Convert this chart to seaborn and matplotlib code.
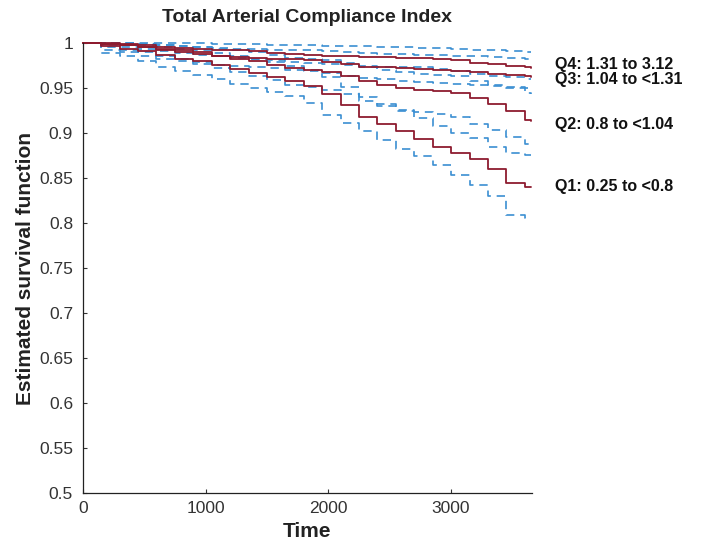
import numpy as np
import pandas as pd
import matplotlib
matplotlib.use("Agg")
import matplotlib.pyplot as plt
import seaborn as sns

times = [0, 150, 300, 450, 600, 750, 900, 1050, 1200, 1350, 1500, 1650, 1800,
         1950, 2100, 2250, 2400, 2550, 2700, 2850, 3000, 3150, 3300, 3450, 3600, 3650]

# Q1: 0.25 to <0.8
q1_est = [1.0, 0.997, 0.994, 0.991, 0.987, 0.983, 0.980, 0.976, 0.971, 0.967, 0.962, 0.958, 0.952,
          0.943, 0.931, 0.918, 0.910, 0.902, 0.894, 0.885, 0.878, 0.871, 0.860, 0.845, 0.840, 0.840]
q1_low = [1.0, 0.989, 0.986, 0.980, 0.974, 0.969, 0.965, 0.960, 0.955, 0.950, 0.946, 0.941, 0.933,
          0.920, 0.911, 0.902, 0.892, 0.882, 0.875, 0.865, 0.853, 0.842, 0.830, 0.809, 0.806, 0.806]
q1_up = [1.0, 1.0, 0.999, 0.998, 0.996, 0.994, 0.992, 0.989, 0.986, 0.983, 0.979, 0.975, 0.970,
         0.962, 0.951, 0.940, 0.932, 0.925, 0.917, 0.908, 0.900, 0.895, 0.885, 0.878, 0.876, 0.876]

# Q2: 0.8 to <1.04
q2_est = [1.0, 0.999, 0.998, 0.996, 0.994, 0.992, 0.990, 0.986, 0.983, 0.980, 0.976, 0.972, 0.970,
          0.968, 0.964, 0.958, 0.953, 0.950, 0.948, 0.947, 0.945, 0.939, 0.932, 0.925, 0.915, 0.913]
q2_low = [1.0, 0.993, 0.990, 0.986, 0.983, 0.980, 0.977, 0.972, 0.968, 0.964, 0.959, 0.954, 0.951,
          0.948, 0.943, 0.936, 0.930, 0.926, 0.923, 0.921, 0.918, 0.910, 0.903, 0.896, 0.888, 0.887]
q2_up = [1.0, 1.0, 1.0, 0.999, 0.998, 0.997, 0.996, 0.994, 0.992, 0.990, 0.987, 0.984, 0.983,
         0.981, 0.978, 0.974, 0.970, 0.968, 0.966, 0.965, 0.963, 0.958, 0.954, 0.950, 0.945, 0.944]

# Q3: 1.04 to <1.31
q3_est = [1.0, 0.999, 0.998, 0.996, 0.993, 0.990, 0.988, 0.986, 0.985, 0.984, 0.983, 0.982, 0.981,
          0.979, 0.977, 0.974, 0.973, 0.972, 0.971, 0.970, 0.969, 0.968, 0.966, 0.965, 0.963, 0.962]
q3_low = [1.0, 0.996, 0.993, 0.990, 0.986, 0.982, 0.979, 0.976, 0.975, 0.973, 0.972, 0.970, 0.969,
          0.967, 0.964, 0.961, 0.960, 0.958, 0.957, 0.956, 0.955, 0.953, 0.952, 0.951, 0.950, 0.950]
q3_up = [1.0, 1.0, 1.0, 0.999, 0.998, 0.997, 0.996, 0.995, 0.994, 0.994, 0.993, 0.992, 0.992,
         0.991, 0.990, 0.989, 0.988, 0.988, 0.987, 0.987, 0.986, 0.986, 0.985, 0.984, 0.983, 0.983]

# Q4: 1.31 to 3.12
q4_est = [1.0, 1.0, 0.999, 0.998, 0.996, 0.995, 0.994, 0.993, 0.992, 0.991, 0.989, 0.988, 0.987,
          0.986, 0.986, 0.985, 0.985, 0.984, 0.984, 0.983, 0.981, 0.978, 0.977, 0.975, 0.973, 0.972]
q4_low = [1.0, 0.998, 0.996, 0.994, 0.991, 0.989, 0.987, 0.986, 0.984, 0.983, 0.981, 0.979, 0.978,
          0.977, 0.976, 0.975, 0.974, 0.973, 0.973, 0.971, 0.969, 0.966, 0.964, 0.962, 0.960, 0.960]
q4_up = [1.0, 1.0, 1.0, 1.0, 1.0, 1.0, 1.0, 0.999, 0.999, 0.999, 0.998, 0.998, 0.998,
         0.997, 0.997, 0.997, 0.996, 0.996, 0.995, 0.995, 0.994, 0.993, 0.992, 0.991, 0.990, 0.990]

labels = ["Q1: 0.25 to <0.8", "Q2: 0.8 to <1.04", "Q3: 1.04 to <1.31", "Q4: 1.31 to 3.12"]
label_y = [0.841, 0.910, 0.9595, 0.976]

yticks = [0.5, 0.55, 0.6, 0.65, 0.7, 0.75, 0.8, 0.85, 0.9, 0.95, 1.0]
ytick_labels = ["0.5", "0.55", "0.6", "0.65", "0.7", "0.75", "0.8", "0.85", "0.9", "0.95", "1"]
xticks = [0, 1000, 2000, 3000]

sns.set_style("ticks")
plt.rcParams['font.family'] = ['Liberation Sans', 'DejaVu Sans']

red = "#8e1b2f"
blue = "#3b8fd2"

fig = plt.figure(figsize=(7.02, 5.47), dpi=100)
ax = fig.add_axes([0.118, 0.099, 0.640, 0.822])

groups = [(q1_est, q1_low, q1_up), (q2_est, q2_low, q2_up),
          (q3_est, q3_low, q3_up), (q4_est, q4_low, q4_up)]

# confidence bounds first, estimates on top
for est, low, up in groups:
    for b in (low, up):
        sns.lineplot(x=times, y=b, ax=ax, color=blue, linestyle=(0, (5, 3.5)),
                     linewidth=1.2, drawstyle="steps-post", estimator=None, clip_on=False)
for est, low, up in groups:
    sns.lineplot(x=times, y=est, ax=ax, color=red, linewidth=1.3,
                 drawstyle="steps-post", estimator=None, clip_on=False)

for lab, yv in zip(labels, label_y):
    ax.annotate(lab, xy=(1.051, yv), xycoords=("axes fraction", "data"),
                ha="left", va="center", fontsize=11.5, fontweight="bold", color="#111111")

ax.set_xlim(0, 3660)
ax.set_ylim(0.5, 1.0)
ax.set_yticks(yticks)
ax.set_yticklabels(ytick_labels)
ax.set_xticks(xticks)
ax.tick_params(direction="in", length=3, width=0.8, labelsize=12.5, colors="#333333",
               labelcolor="#333333")
ax.tick_params(axis="y", pad=7)
ax.tick_params(axis="x", pad=6)
for s in ["top", "right"]:
    ax.spines[s].set_visible(False)
for s in ["left", "bottom"]:
    ax.spines[s].set_color("#222222")
    ax.spines[s].set_linewidth(0.9)

ax.set_xlabel("Time", fontsize=15, fontweight="bold", color="#222222", labelpad=4)
ax.set_ylabel("Estimated survival function", fontsize=15, fontweight="bold",
              color="#222222", labelpad=3)
ax.set_title("Total Arterial Compliance Index", fontsize=14, fontweight="bold",
             color="#222222", pad=15)

fig.savefig("out.png", dpi=100)
